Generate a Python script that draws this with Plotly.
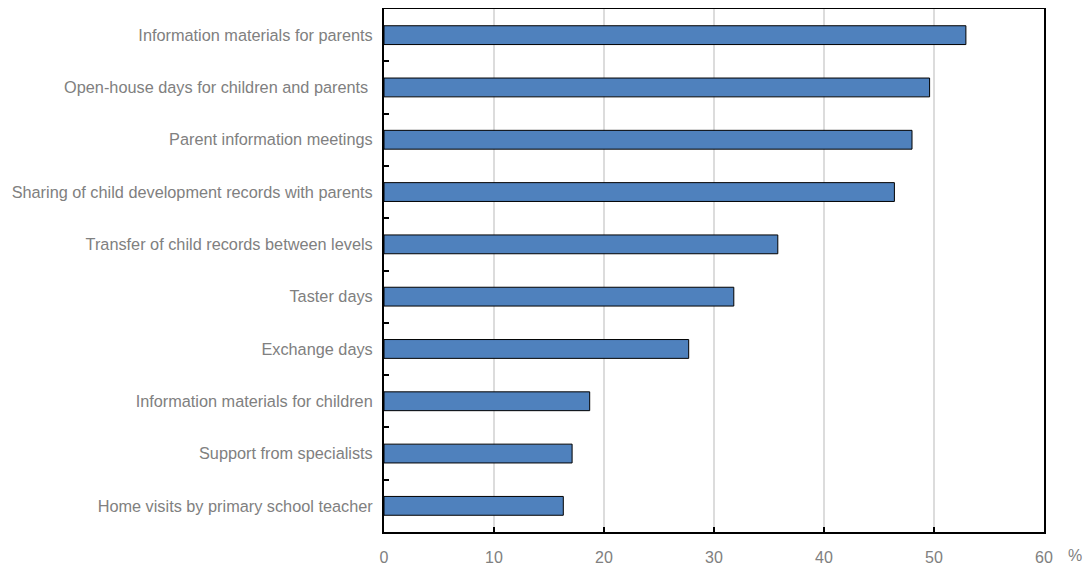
import plotly.graph_objects as go

categories = [
    "Information materials for parents",
    "Open-house days for children and parents ",
    "Parent information meetings",
    "Sharing of child development records with parents",
    "Transfer of child records between levels",
    "Taster days",
    "Exchange days",
    "Information materials for children",
    "Support from specialists",
    "Home visits by primary school teacher",
]
values = [52.9, 49.6, 48.0, 46.4, 35.8, 31.8, 27.7, 18.7, 17.1, 16.3]
x_ticks = [0, 10, 20, 30, 40, 50, 60]

FONT = "Liberation Sans, Arial, sans-serif"
GREY = "#808080"

# The page body has a default 8px margin, so the figure is shifted by 8px.
W, H = 1083, 560
L, R, T, B = 376, 47, 1, 36

fig = go.Figure(
    go.Bar(
        x=values,
        y=categories,
        orientation="h",
        width=0.36,
        marker=dict(color="#4F81BD", line=dict(color="#000000", width=1)),
        hoverinfo="x+y",
    )
)

fig.update_layout(
    width=W,
    height=H,
    margin=dict(l=L, r=R, t=T, b=B, autoexpand=False),
    plot_bgcolor="white",
    paper_bgcolor="white",
    showlegend=False,
    font=dict(family=FONT, size=16, color=GREY),
    xaxis=dict(
        range=[0, 60],
        tickvals=x_ticks,
        ticks="inside",
        ticklen=5,
        tickcolor="black",
        tickwidth=1.5,
        showline=True,
        linecolor="black",
        linewidth=2,
        mirror=True,
        showgrid=True,
        gridcolor="#dcdcdc",
        gridwidth=1.5,
        zeroline=False,
        automargin=False,
        ticklabelstandoff=10,
        tickfont=dict(family=FONT, size=16, color=GREY),
    ),
    yaxis=dict(
        autorange="reversed",
        type="category",
        ticks="inside",
        tickson="boundaries",
        ticklen=5,
        tickcolor="black",
        tickwidth=1.5,
        showline=True,
        linecolor="black",
        linewidth=2,
        mirror=True,
        showgrid=False,
        zeroline=False,
        automargin=False,
        ticklabelstandoff=6,
        tickfont=dict(family=FONT, size=16.3, color=GREY),
    ),
    annotations=[
        dict(
            text="%",
            x=(1075 - 384) / (W - L - R),
            xref="paper",
            y=-0.044,
            yref="paper",
            xanchor="center",
            yanchor="middle",
            showarrow=False,
            font=dict(family=FONT, size=16, color=GREY),
        )
    ],
)

fig.write_html("out.html")
